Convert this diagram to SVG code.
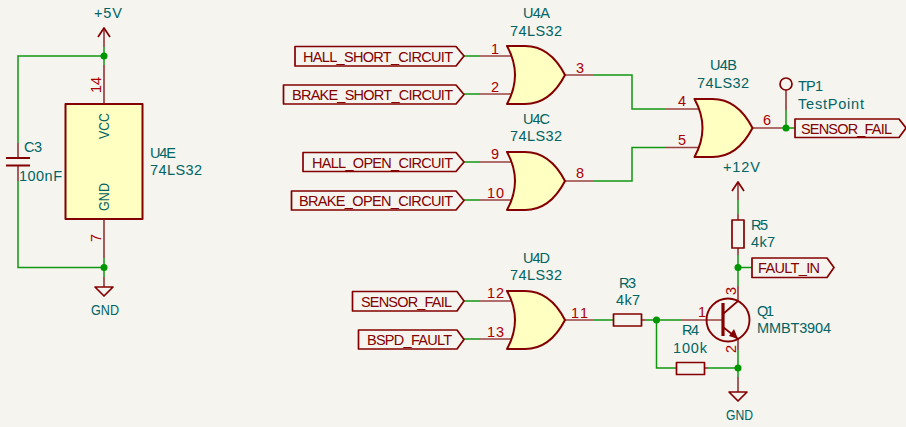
<svg xmlns="http://www.w3.org/2000/svg" width="906" height="427" viewBox="0 0 906 427">
<style>
text{font-family:"Liberation Sans","DejaVu Sans",sans-serif;font-size:14.500px}
.t{fill:#006464}.p{fill:#a90000}.l{fill:#840000}
.w{fill:none;stroke:#109610;stroke-width:1.500}
.n{fill:none;stroke:#984040;stroke-width:1.700}
.b{fill:none;stroke:#840000;stroke-width:1.700;stroke-linejoin:round}
.f{fill:#ffffc2;stroke:#840000;stroke-width:2;stroke-linejoin:round}
.j{fill:#009600}
</style>
<defs>
<path id="or" class="f" d="M0 0H18Q43 0 58 29Q43 58 18 58H0Q16 29 0 0Z"/>
</defs>
<rect width="906" height="427" fill="#f5f4ef"/>
<g id="connectors">
<path class="w" d="M104 47V65M104 56H18V143M18 181V267.500H104M104 258V277"/>
<path class="w" d="M464 56H479M464 94H479M464 162H479M464 200H479M593 75H632V109H665M593 181H632V147.500H665"/>
<path class="w" d="M464 301H479M464 339H479M593 320H613M645 320H681M656.500 320V368H676M708 368H738M738 350V377"/>
<path class="w" d="M781 128H795M786 110V128M738 200V214M738 255V286M738 267.500H752"/>
<circle class="j" cx="104" cy="56" r="3.500"/><circle class="j" cx="104" cy="267.500" r="3.500"/>
<circle class="j" cx="786" cy="128" r="3.500"/><circle class="j" cx="738" cy="267.500" r="3.500"/>
<circle class="j" cx="656.500" cy="320" r="3.500"/><circle class="j" cx="738" cy="368" r="3.500"/>
</g>
<g id="pwr5v"><path class="n" d="M104 47V28"/><path class="b" d="M98 37L104 28L110 37"/><text class="t" x="94" y="18" textLength="28">+5V</text></g>
<g id="gnd1"><path class="n" d="M104 277V287"/><path class="b" d="M95 287H113L104 296Z"/><text class="t" x="91" y="315" textLength="28" lengthAdjust="spacingAndGlyphs">GND</text></g>
<g id="C3"><path class="n" d="M18 143V157M18 166V181"/><path d="M6 158H30M6 165.500H30" stroke="#840000" stroke-width="2.200" fill="none"/><text class="t" x="24" y="152" textLength="18">C3</text><text class="t" x="19" y="181" textLength="43">100nF</text></g>
<g id="U4E">
<path class="n" d="M104 65V104M104 219V258"/>
<rect class="f" x="65.500" y="104" width="77" height="115"/>
<text class="p" transform="translate(101 93) rotate(-90)" textLength="16">14</text>
<text class="t" transform="translate(109 139) rotate(-90)" textLength="26" lengthAdjust="spacingAndGlyphs">VCC</text>
<text class="t" transform="translate(109 211) rotate(-90)" textLength="28" lengthAdjust="spacingAndGlyphs">GND</text>
<text class="p" transform="translate(101 242) rotate(-90)" textLength="8">7</text>
<text class="t" x="150" y="158" textLength="26">U4E</text><text class="t" x="150" y="175" textLength="52">74LS32</text>
</g>
<g id="U4A">
<path class="n" d="M479 56H512M479 94H512M565 75H593"/>
<use href="#or" x="507" y="46"/>
<text class="t" x="523" y="18" textLength="27">U4A</text><text class="t" x="510" y="36" textLength="52">74LS32</text>
<text class="p" x="491" y="54" textLength="8">1</text><text class="p" x="491" y="92" textLength="8">2</text><text class="p" x="576" y="73" textLength="8">3</text>
</g>
<g id="U4C">
<path class="n" d="M479 162H512M479 200H512M565 181H593"/>
<use href="#or" x="507" y="152"/>
<text class="t" x="523" y="123.500" textLength="27">U4C</text><text class="t" x="510" y="141" textLength="52">74LS32</text>
<text class="p" x="491" y="159" textLength="8">9</text><text class="p" x="487" y="198" textLength="17">10</text><text class="p" x="576" y="178" textLength="8">8</text>
</g>
<g id="U4B">
<path class="n" d="M665 109H699M665 147.500H699M753 128H781"/>
<use href="#or" x="694.500" y="99"/>
<text class="t" x="710" y="70" textLength="27">U4B</text><text class="t" x="697" y="88" textLength="52">74LS32</text>
<text class="p" x="678" y="106" textLength="8">4</text><text class="p" x="678" y="145" textLength="8">5</text><text class="p" x="763" y="125" textLength="8">6</text>
</g>
<g id="U4D">
<path class="n" d="M479 301H512M479 339H512M565 320H593"/>
<use href="#or" x="507" y="291"/>
<text class="t" x="523" y="263" textLength="27">U4D</text><text class="t" x="510" y="280" textLength="52">74LS32</text>
<text class="p" x="487" y="298" textLength="17">12</text><text class="p" x="487" y="337" textLength="17">13</text><text class="p" x="571" y="318" textLength="17">11</text>
</g>
<g id="lbl-hall-short"><path class="b" d="M295 46.500H456L464 56L456 66H295Z"/><text class="l" x="303" y="62" textLength="150">HALL_SHORT_CIRCUIT</text></g>
<g id="lbl-brake-short"><path class="b" d="M283.500 85H456L464 94.500L456 104H283.500Z"/><text class="l" x="292" y="100" textLength="161">BRAKE_SHORT_CIRCUIT</text></g>
<g id="lbl-hall-open"><path class="b" d="M303 152.500H456L464 162L456 171.500H303Z"/><text class="l" x="312" y="167.500" textLength="141">HALL_OPEN_CIRCUIT</text></g>
<g id="lbl-brake-open"><path class="b" d="M291.500 191H456L464 200.500L456 210H291.500Z"/><text class="l" x="299" y="206" textLength="154">BRAKE_OPEN_CIRCUIT</text></g>
<g id="lbl-sensor-in"><path class="b" d="M352.500 291.500H457L464 301L457 311H352.500Z"/><text class="l" x="361" y="307" textLength="91">SENSOR_FAIL</text></g>
<g id="lbl-bspd"><path class="b" d="M358.500 330H457L464 339.500L457 349H358.500Z"/><text class="l" x="367" y="345" textLength="85">BSPD_FAULT</text></g>
<g id="lbl-sensor-out"><path class="b" d="M795 119H899L906 128L899 137.500H795Z"/><text class="l" x="801" y="133.500" textLength="91">SENSOR_FAIL</text></g>
<g id="lbl-fault-in"><path class="b" d="M752 258H827L834 267.500L827 277.500H752Z"/><text class="l" x="758" y="273" textLength="62">FAULT_IN</text></g>
<g id="TP1"><path class="n" d="M786 90V110"/><circle class="b" cx="786" cy="84" r="6"/><text class="t" x="798" y="91" textLength="25">TP1</text><text class="t" x="798" y="109" textLength="66">TestPoint</text></g>
<g id="pwr12v"><path class="n" d="M738 200V182"/><path class="b" d="M732 191L738 182L744 191"/><text class="t" x="723" y="172" textLength="37">+12V</text></g>
<g id="R5"><path class="n" d="M738 214V220M738 248V255"/><rect class="b" x="732" y="220" width="12" height="28"/><text class="t" x="751" y="230" textLength="17">R5</text><text class="t" x="751" y="247" textLength="24">4k7</text></g>
<g id="R3"><path class="n" d="M641 320H645"/><rect class="b" x="613.500" y="314" width="28" height="12"/><text class="t" x="619" y="288" textLength="17">R3</text><text class="t" x="616" y="305" textLength="24">4k7</text></g>
<g id="R4"><path class="n" d="M704 368H708"/><rect class="b" x="676.500" y="362.500" width="28" height="12"/><text class="t" x="682" y="335" textLength="17">R4</text><text class="t" x="673" y="353" textLength="34">100k</text></g>
<g id="Q1">
<path class="n" d="M681 320H723M738 286V301M738 339V350"/>
<circle cx="728" cy="320" r="21.500" fill="none" stroke="#840000" stroke-width="1.900"/>
<path d="M723 303V336" stroke="#840000" stroke-width="3.200" fill="none"/>
<path class="b" d="M723 314L738 301M723 327L738 339"/>
<path d="M738 339L729 336L734 329Z" fill="#840000"/>
<text class="p" x="698" y="317" textLength="8">1</text>
<text class="p" transform="translate(736 295) rotate(-90)" textLength="8">3</text>
<text class="p" transform="translate(736 353) rotate(-90)" textLength="8">2</text>
<text class="t" x="757" y="316" textLength="17">Q1</text><text class="t" x="757" y="333" textLength="74">MMBT3904</text>
</g>
<g id="gnd2"><path class="n" d="M738 377V392"/><path class="b" d="M729 392H747L738 401Z"/><text class="t" x="726" y="420" textLength="27" lengthAdjust="spacingAndGlyphs">GND</text></g>
</svg>
